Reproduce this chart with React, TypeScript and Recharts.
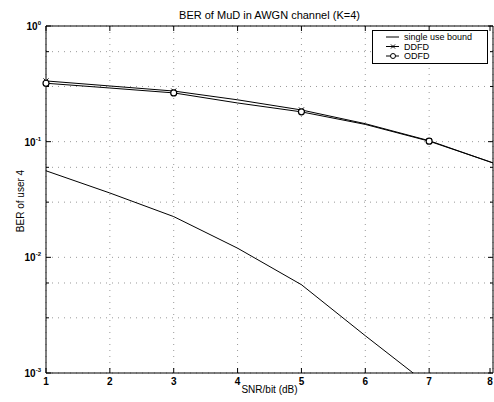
import React from 'react';
import { LineChart, Line, XAxis, YAxis, CartesianGrid, Legend } from 'recharts';

// SNR per bit (dB)
const snr = [1, 2, 3, 4, 5, 6, 7, 8];
// BER
const singleUserBound = [0.056, 0.036, 0.0225, 0.012, 0.0058, 0.0021, 0.00078, 0.0002];
const ddfd = [0.335, 0.303, 0.274, 0.23, 0.188, 0.143, 0.102, 0.0655];
const odfd = [0.32, 0.291, 0.264, 0.216, 0.181, 0.141, 0.101, 0.0655];

const xTicks = [1, 2, 3, 4, 5, 6, 7, 8];
const yMajorTicks = [0.001, 0.01, 0.1, 1];
const yMinorTicks = [0.001, 0.01, 0.1].flatMap((d) => [2, 3, 4, 5, 6, 7, 8, 9].map((m) => m * d));
const yTicks = [...yMajorTicks, ...yMinorTicks].sort((a, b) => a - b);

const data = snr.map((s, i) => ({
  snr: s,
  sub: singleUserBound[i],
  ddfd: ddfd[i],
  odfd: odfd[i],
}));

const FONT = '"Liberation Sans", Arial, sans-serif';

const LeftTick = (props: any) => {
  const { x, y, payload } = props;
  const major = yMajorTicks.includes(payload.value);
  const exp = Math.round(Math.log10(payload.value));
  return (
    <g>
      <line x1={x} y1={y} x2={x + (major ? 5 : 3)} y2={y} stroke="#000" />
      {major && (
        <text x={x - 5} y={y + 4} textAnchor="end" fontSize={10} fontWeight="bold" fill="#000" fontFamily={FONT}>
          10<tspan dy={-5} fontSize={6}>{exp}</tspan>
        </text>
      )}
    </g>
  );
};

const RightTick = (props: any) => {
  const { x, y, payload } = props;
  const major = yMajorTicks.includes(payload.value);
  return <line x1={x} y1={y} x2={x - (major ? 5 : 3)} y2={y} stroke="#000" />;
};

const BottomTick = (props: any) => {
  const { x, y, payload } = props;
  return (
    <g>
      <line x1={x} y1={y} x2={x} y2={y - 5} stroke="#000" />
      <text x={x} y={y + 12} textAnchor="middle" fontSize={10} fontWeight="bold" fill="#000" fontFamily={FONT}>
        {payload.value}
      </text>
    </g>
  );
};

const TopTick = (props: any) => {
  const { x, y } = props;
  return <line x1={x} y1={y} x2={x} y2={y + 5} stroke="#000" />;
};

const CircleDot = (props: any) => {
  const { cx, cy, payload, index } = props;
  if (payload.snr % 2 === 0) return <g key={`o${index}`} />;
  return <circle key={`o${index}`} cx={cx} cy={cy} r={3} fill="#fff" stroke="#000" strokeWidth={1.2} />;
};

const CrossDot = (props: any) => {
  const { cx, cy, payload, index } = props;
  if (payload.snr % 2 === 0) return <g key={`x${index}`} />;
  return (
    <g key={`x${index}`}>
      <line x1={cx - 2.5} y1={cy - 2.5} x2={cx + 2.5} y2={cy + 2.5} stroke="#000" />
      <line x1={cx - 2.5} y1={cy + 2.5} x2={cx + 2.5} y2={cy - 2.5} stroke="#000" />
    </g>
  );
};

const LegendBox = () => (
  <svg width={116} height={34} style={{ display: 'block' }}>
    <rect x={0.5} y={0.5} width={115} height={33} fill="#fff" stroke="#000" />
    <line x1={14} y1={7} x2={27} y2={7} stroke="#000" />
    <text x={32} y={10} fontSize={9} fontFamily={FONT} fill="#000">single use bound</text>
    <line x1={14} y1={16.5} x2={27} y2={16.5} stroke="#000" />
    <line x1={19} y1={14.5} x2={23} y2={18.5} stroke="#000" />
    <line x1={19} y1={18.5} x2={23} y2={14.5} stroke="#000" />
    <text x={32} y={19.5} fontSize={9} fontFamily={FONT} fill="#000">DDFD</text>
    <line x1={14} y1={26} x2={27} y2={26} stroke="#000" />
    <circle cx={21} cy={26} r={2.5} fill="#fff" stroke="#000" />
    <text x={32} y={29} fontSize={9} fontFamily={FONT} fill="#000">ODFD</text>
  </svg>
);

export default function App() {
  return (
    <div style={{ position: 'absolute', left: 0, top: 0, width: 494, height: 402, background: '#fff', fontFamily: FONT }}>
      <LineChart width={494} height={402} data={data} margin={{ top: 0, right: 0, bottom: 0, left: 0 }}>
        <CartesianGrid stroke="#999" strokeDasharray="1 5" />
        <XAxis
          dataKey="snr"
          type="number"
          domain={[1, 8]}
          ticks={xTicks}
          height={29}
          stroke="#000"
          tickLine={false}
          tickSize={0}
          tickMargin={0}
          tick={<BottomTick />}
        />
        <XAxis
          xAxisId="top"
          orientation="top"
          dataKey="snr"
          type="number"
          domain={[1, 8]}
          ticks={xTicks}
          height={26}
          stroke="#000"
          tickLine={false}
          tickSize={0}
          tickMargin={0}
          tick={<TopTick />}
        />
        <YAxis
          type="number"
          scale="log"
          domain={[0.001, 1]}
          allowDataOverflow
          ticks={yTicks}
          width={46}
          stroke="#000"
          tickLine={false}
          tickSize={0}
          tickMargin={0}
          tick={<LeftTick />}
        />
        <YAxis
          yAxisId="right"
          orientation="right"
          type="number"
          scale="log"
          domain={[0.001, 1]}
          allowDataOverflow
          ticks={yTicks}
          width={1}
          stroke="#000"
          tickLine={false}
          tickSize={0}
          tickMargin={0}
          tick={<RightTick />}
        />
        <Legend
          layout="horizontal"
          verticalAlign="middle"
          align="center"
          wrapperStyle={{ left: 372, top: 30, width: 116, height: 34 }}
          content={() => <LegendBox />}
        />
        <Line dataKey="sub" stroke="#000" strokeWidth={1} dot={false} isAnimationActive={false} />
        <Line dataKey="ddfd" stroke="#000" strokeWidth={1} dot={<CrossDot />} isAnimationActive={false} />
        <Line
          dataKey="odfd"
          xAxisId="top"
          yAxisId="right"
          stroke="#000"
          strokeWidth={1}
          dot={<CircleDot />}
          isAnimationActive={false}
        />
      </LineChart>
      <div style={{ position: 'absolute', left: 46, top: 8, width: 447, textAlign: 'center', fontSize: 11, lineHeight: '14px' }}>
        BER of MuD in AWGN channel (K=4)
      </div>
      <div style={{ position: 'absolute', left: 46, top: 383, width: 447, textAlign: 'center', fontSize: 10, lineHeight: '13px' }}>
        SNR/bit (dB)
      </div>
      <div
        style={{
          position: 'absolute',
          left: 20,
          top: 201,
          transform: 'translate(-50%, -50%) rotate(-90deg)',
          whiteSpace: 'nowrap',
          fontSize: 10,
          lineHeight: '13px',
        }}
      >
        BER of user 4
      </div>
    </div>
  );
}
